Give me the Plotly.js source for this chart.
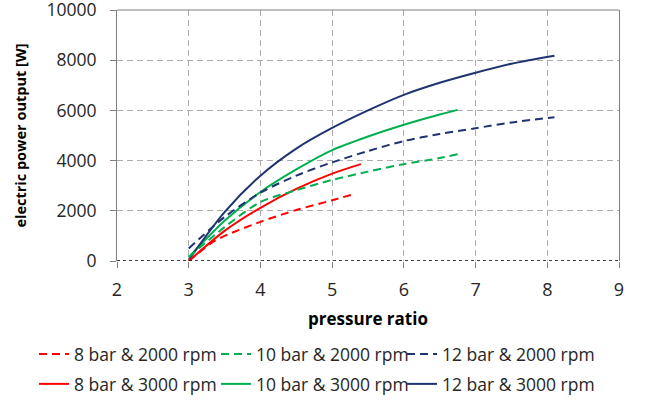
<!DOCTYPE html>
<html>
<head>
<meta charset="utf-8">
<script src="https://cdn.plot.ly/plotly-3.0.1.min.js"></script>
<style>html,body{margin:0;padding:0;background:#fff;}#chart{width:645px;height:401px;}</style>
</head>
<body>
<div id="chart"></div>
<script>
// pressure ratio (x) and electric power output [W] (y) per series
const names = ["8 bar & 2000 rpm", "10 bar & 2000 rpm", "12 bar & 2000 rpm",
               "8 bar & 3000 rpm", "10 bar & 3000 rpm", "12 bar & 3000 rpm"];

const pr_8_2000  = [3, 3.35, 3.5, 4, 4.5, 5, 5.32];
const pw_8_2000  = [0, 780, 1000, 1560, 2030, 2420, 2680];

const pr_10_2000 = [3, 3.5, 4, 4.5, 5, 5.5, 6, 6.5, 6.75];
const pw_10_2000 = [150, 1350, 2350, 2820, 3230, 3560, 3860, 4100, 4250];

const pr_12_2000 = [3, 3.5, 4, 4.5, 5, 5.5, 6, 6.5, 7, 7.5, 8.1];
const pw_12_2000 = [500, 1750, 2720, 3400, 3930, 4380, 4780, 5060, 5290, 5520, 5730];

const pr_8_3000  = [3, 3.5, 4, 4.5, 5, 5.4];
const pw_8_3000  = [0, 1200, 2120, 2870, 3480, 3860];

const pr_10_3000 = [3, 3.5, 4, 4.5, 5, 5.5, 6, 6.5, 6.75];
const pw_10_3000 = [150, 1600, 2750, 3650, 4420, 4960, 5430, 5840, 6020];

const pr_12_3000 = [3, 3.5, 4, 4.5, 5, 5.5, 6, 6.5, 7, 7.5, 8.1];
const pw_12_3000 = [50, 1950, 3400, 4480, 5300, 6000, 6620, 7100, 7500, 7860, 8180];

const xTicks = [2, 3, 4, 5, 6, 7, 8, 9];
const yTicks = [0, 2000, 4000, 6000, 8000, 10000];

const RED = '#FF0000', GREEN = '#00B050', NAVY = '#1F3370';
const DASH = '8px,5px';

function tr(x, y, name, color, dash, legend) {
  return {x: x, y: y, name: name, type: 'scatter', mode: 'lines',
          line: {color: color, width: 2, dash: dash, shape: 'spline', smoothing: 0.8},
          legend: legend, hoverinfo: 'skip'};
}

const data = [
  tr(pr_8_3000,  pw_8_3000,  names[3], RED,   'solid', 'legend4'),
  tr(pr_10_3000, pw_10_3000, names[4], GREEN, 'solid', 'legend5'),
  tr(pr_12_3000, pw_12_3000, names[5], NAVY,  'solid', 'legend6'),
  tr(pr_8_2000,  pw_8_2000,  names[0], RED,   DASH, 'legend'),
  tr(pr_10_2000, pw_10_2000, names[1], GREEN, DASH, 'legend2'),
  tr(pr_12_2000, pw_12_2000, names[2], NAVY,  DASH, 'legend3')
];

const FONT = 'Open Sans, Noto Sans, sans-serif';
const gridStyle = {showgrid: true, gridcolor: '#ADADAD', gridwidth: 1, griddash: '6px,4px'};

function leg(left, centerY) {
  return {
    orientation: 'h', xref: 'container', yref: 'container',
    x: left / 645, xanchor: 'left', y: 1 - centerY / 401, yanchor: 'middle',
    bgcolor: 'rgba(0,0,0,0)', borderwidth: 0,
    font: {family: FONT, size: 17.5, color: '#262626'}
  };
}
const colLeft = [34, 216, 402];
const rowY = [354, 384];

const layout = {
  width: 645, height: 401,
  margin: {l: 117, r: 26, t: 10, b: 140},
  paper_bgcolor: '#ffffff', plot_bgcolor: '#ffffff',
  font: {family: FONT, color: '#262626'},
  showlegend: true,
  legend:  leg(colLeft[0], rowY[0]),
  legend2: leg(colLeft[1], rowY[0]),
  legend3: leg(colLeft[2], rowY[0]),
  legend4: leg(colLeft[0], rowY[1]),
  legend5: leg(colLeft[1], rowY[1]),
  legend6: leg(colLeft[2], rowY[1]),
  xaxis: Object.assign({
    range: [2, 9], tickmode: 'array', tickvals: xTicks, ticktext: xTicks.map(String),
    ticks: 'outside', ticklen: 6, tickcolor: '#808080', showline: false, zeroline: false,
    tickfont: {family: FONT, size: 18, color: '#262626'}, ticklabelstandoff: 6,
    title: {text: '<b>pressure ratio</b>', font: {family: FONT, size: 17, color: '#000'}, standoff: 13}
  }, gridStyle),
  yaxis: Object.assign({
    range: [0, 10000], tickmode: 'array', tickvals: yTicks, ticktext: yTicks.map(String),
    ticks: 'outside', ticklen: 6, tickcolor: '#808080', showline: true, linecolor: '#808080',
    linewidth: 1, mirror: true, zeroline: false, ticklabeloverflow: 'allow',
    tickfont: {family: FONT, size: 17.5, color: '#262626'}, ticklabelstandoff: 10,
    title: {text: '<b>electric power output [W]</b>', font: {family: FONT, size: 14.5, color: '#000'}, standoff: 16}
  }, gridStyle),
  shapes: [
    {type: 'line', xref: 'paper', yref: 'paper', x0: 0, x1: 1, y0: 1, y1: 1,
     line: {color: '#808080', width: 1}},
    {type: 'line', xref: 'paper', yref: 'y', x0: 0, x1: 1, y0: 0, y1: 0,
     line: {color: '#000000', width: 1.5, dash: 'dot'}}
  ]
};

Plotly.newPlot('chart', data, layout, {staticPlot: true, displayModeBar: false});
</script>
</body>
</html>
